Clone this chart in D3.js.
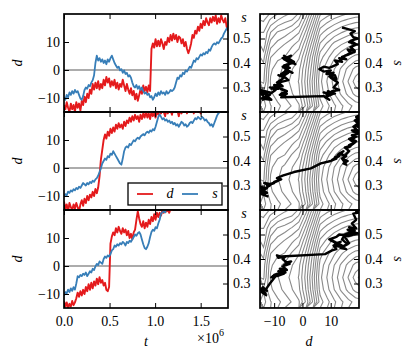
<!DOCTYPE html>
<html>
<head>
<meta charset="utf-8">
<script src="https://cdn.jsdelivr.net/npm/d3@7"></script>
<style>
body { margin: 0; background: #fff; }
text { font-family: "Liberation Serif", serif; font-size: 14px; }
</style>
</head>
<body>
<svg id="fig" width="415" height="360"></svg>
<script>
// sample spacing of the runs (t axis)
var tStep = 15000;

// run 1
var dA = [-12.5,-14,-11.5,-13.5,-15,-12,-14,-12.5,-15,-11.5,
  -13.5,-12,-14.5,-11,-12.5,-9.5,-11.5,-8.5,-10,-7,
  -8.5,-5,-7,-4.5,-6.5,-4,-7,-5,-6.5,-3.5,
  -5.5,-2.5,-4.5,-3,-6,-4,-5.5,-3.5,-6.5,-4.5,
  -7,-5,-6,-3.5,-5.5,-7.5,-5,-7,-8.5,-6.5,
  -9,-7.5,-10.5,-8.5,-11,-9,-7,-8.5,-5.5,-7.5,
  -6,-8,-5.5,-7.5,7.5,9.5,8,11,8.5,10.5,
  8.5,11,9.5,7.5,10,9,11.5,10,12.5,10.5,
  13,11,12.5,10,12,11.5,9.5,11,8.5,10,
  7.5,6,7.5,9.5,12.5,11.5,14,13,15.5,14,
  16.5,15,17.5,16,18.5,17,16,18.5,17,19,
  17.5,19.5,16.5,18.5,17,19.5,18,17,18.5,15.5,14];
var sA = [0.26,0.25,0.27,0.26,0.28,0.27,0.285,0.275,0.29,0.28,
  0.285,0.27,0.255,0.25,0.265,0.29,0.30,0.295,0.31,0.305,
  0.32,0.33,0.35,0.40,0.43,0.41,0.42,0.405,0.415,0.40,
  0.41,0.395,0.415,0.405,0.42,0.43,0.415,0.40,0.39,0.38,
  0.385,0.37,0.375,0.36,0.37,0.355,0.36,0.345,0.35,0.34,
  0.32,0.305,0.30,0.31,0.295,0.305,0.29,0.30,0.285,0.275,
  0.28,0.27,0.275,0.26,0.265,0.25,0.26,0.275,0.265,0.28,
  0.27,0.285,0.275,0.28,0.27,0.285,0.275,0.28,0.29,0.285,
  0.29,0.30,0.32,0.34,0.335,0.35,0.345,0.36,0.355,0.37,
  0.365,0.375,0.385,0.38,0.395,0.41,0.405,0.42,0.415,0.425,
  0.435,0.43,0.44,0.435,0.445,0.44,0.455,0.45,0.465,0.475,
  0.48,0.475,0.485,0.48,0.49,0.50,0.505,0.52,0.53,0.54,0.545];

// run 2
var dB = [-12,-14.5,-13,-15.5,-12.5,-14,-15,-13,-14.5,-12.5,
  -14,-15.5,-13,-11.5,-13.5,-11,-12.5,-10,-11.5,-9.5,
  -10.5,-8.5,-10,-7.5,-9,-7,-3,3,6.5,10,
  12,10.5,13,11.5,14,12.5,14.5,13,15.5,14,
  16,14.5,15.5,14,16.5,15,17,16,18,16.5,
  18.5,17,19,17.5,18.5,16.5,19,17.5,19.5,18,
  20,18,19.5,17.5,20,18.5,19.5,18,20.5,19,
  21,19.5,22,20,18.5,21,19.5,22,20.5,19,
  21.5,20,22.5,20.5,18.5,21,19.5,22,20.5,21.5,
  19.5,22,20.5,23,21,19.5,22,20,22.5,21,
  19.5,22,20.5,23,21.5,20,22.5,21,23.5,22,
  20.5,23,21.5,24,22.5,21,23.5,22,24.5,23,24];
var sB = [0.255,0.265,0.26,0.275,0.27,0.28,0.275,0.285,0.28,0.29,
  0.285,0.295,0.29,0.30,0.31,0.305,0.30,0.31,0.305,0.315,
  0.31,0.32,0.315,0.325,0.33,0.34,0.355,0.37,0.39,0.40,
  0.41,0.405,0.42,0.415,0.43,0.425,0.44,0.43,0.42,0.41,
  0.40,0.39,0.385,0.41,0.44,0.455,0.46,0.455,0.47,0.465,
  0.475,0.485,0.48,0.49,0.495,0.49,0.50,0.505,0.51,0.505,
  0.515,0.52,0.515,0.525,0.52,0.53,0.525,0.54,0.56,0.58,
  0.59,0.58,0.57,0.575,0.565,0.57,0.56,0.565,0.555,0.56,
  0.55,0.555,0.545,0.55,0.54,0.55,0.56,0.555,0.545,0.55,
  0.54,0.545,0.555,0.56,0.555,0.565,0.575,0.57,0.58,0.575,
  0.57,0.58,0.575,0.565,0.57,0.56,0.555,0.545,0.55,0.54,
  0.555,0.57,0.585,0.595,0.60,0.61,0.605,0.62,0.615,0.63,0.625];

// run 3
var dC = [-12.5,-14.5,-13,-15,-13.5,-14.5,-12.5,-14,-13,-11.5,
  -9.5,-11,-9,-10.5,-8.5,-10,-7.5,-9,-6.5,-8.5,
  -6,-8,-5.5,-7,-4.5,-6.5,-4,-6,-5,-7,
  -6,-8.5,-9,-7.5,8,10.5,12,11,13.5,12,
  14,12.5,11.5,13.5,12,13,11,12.5,10,11.5,
  9.5,12,13,16.5,19.5,17,15,14,16,13.5,
  15.5,14,16.5,15,17.5,16,18.5,16.5,19,17.5,
  19,18,20,19,20.5,19.5,20,19,20.5,20,
  21,20.5,22,21.5,23,22,24,23,24.5,24,
  25,24.5,26,25,26.5,26,27.5,26.5,28,27.5,
  28.5,28,29,28.5,29.5,29,30,29.5,30.5,30,
  31,30.5,31.5,31,32,31.5,32.5,32,33,32.5,33];
var sC = [0.25,0.265,0.26,0.275,0.265,0.28,0.27,0.285,0.275,0.30,
  0.33,0.325,0.335,0.33,0.34,0.335,0.345,0.33,0.34,0.35,
  0.345,0.36,0.355,0.37,0.38,0.375,0.39,0.385,0.38,0.40,
  0.41,0.405,0.415,0.41,0.42,0.435,0.44,0.455,0.45,0.46,
  0.455,0.465,0.46,0.47,0.465,0.455,0.47,0.465,0.475,0.47,
  0.48,0.49,0.50,0.495,0.505,0.51,0.50,0.48,0.46,0.445,
  0.44,0.45,0.465,0.49,0.51,0.52,0.515,0.53,0.525,0.545,
  0.56,0.585,0.59,0.595,0.59,0.605,0.61,0.62,0.615,0.63,
  0.64,0.635,0.65,0.66,0.655,0.67,0.68,0.675,0.69,0.70,
  0.695,0.71,0.72,0.715,0.73,0.74,0.735,0.75,0.76,0.755,
  0.77,0.78,0.775,0.79,0.80,0.795,0.81,0.82,0.815,0.83,
  0.84,0.835,0.85,0.86,0.855,0.87,0.88,0.875,0.89,0.90,0.895];

// landscape in the (d, s) plane: one row per s value (0.20 .. 0.60), one column per d value (-15 .. 20)
var fieldD0 = -15, fieldDStep = 2.5, fieldS0 = 0.2, fieldSStep = 0.05;
var fieldRows = [
  [34.1,32.1,30.9,29.9,28.9,27.7,24.2,19.7,14.7,13.0,11.3, 9.8, 8.5, 7.5, 7.1],
  [33.3,30.8,29.6,28.6,27.6,26.4,22.9,18.4,13.4,11.5, 9.5, 7.7, 6.0, 4.5, 3.6],
  [35.3,30.3,29.1,28.1,27.1,25.9,22.4,17.9,12.9,10.9, 8.9, 6.9, 4.9, 2.8, 0.8],
  [35.8,30.8,29.6,28.6,27.6,26.4,22.9,18.8,13.4,11.5, 9.5, 7.7, 6.0, 4.5, 3.6],
  [37.1,32.1,30.9,30.5,28.9,27.7,24.2,19.7,14.7,13.0,11.3, 9.8, 8.5, 7.5, 7.1],
  [39.1,34.1,32.9,31.9,30.9,29.7,26.2,21.7,16.7,15.1,13.4,12.5,11.6,10.9,10.5],
  [39.5,36.5,34.8,34.3,33.3,32.1,28.6,24.1,19.1,17.7,16.6,15.6,14.8,14.3,14.0],
  [41.2,39.2,38.0,37.0,36.5,34.8,31.3,26.8,21.8,20.6,19.6,18.8,18.2,17.7,17.5],
  [44.1,42.1,40.9,39.9,38.9,37.7,34.2,29.7,24.7,23.7,22.8,22.1,21.5,21.2,21.0]
];
var fieldLevels = d3.range(0.5, 45, 1.5);

var tTicks = [0, 0.5e6, 1e6, 1.5e6];
var dTicks = [-10, 0, 10];
var sTicks = [0.3, 0.4, 0.5];
var dDomain = [-15, 20], sDomain = [0.2, 0.6], tDomain = [0, 1.8e6];

var runs = [{d: dA, s: sA}, {d: dB, s: sB}, {d: dC, s: sC}];

var red = "#e41a1c", blue = "#377eb8";
var rowTops = [14, 112, 210], panelH = 98;
var L = {x0: 64, x1: 228}, R = {x0: 260, x1: 359};

var svg = d3.select("#fig");
var defs = svg.append("defs");

function Ticks(g, axis, labels)
{
  g.call(axis);
  g.select(".domain").remove();
  g.selectAll("line").attr("stroke", "#000").attr("stroke-width", 1);
  g.selectAll("text")
    .attr("font-family", "Liberation Serif, serif")
    .attr("font-size", 14)
    .attr("fill", "#000");
  if (!labels) g.selectAll("text").remove();
  g.attr("font-family", null).attr("font-size", null);
}

function DrawSeries(k)
{
  var top = rowTops[k], bottom = top + panelH, run = runs[k];
  var x = d3.scaleLinear().domain(tDomain).range([L.x0, L.x1]);
  var yd = d3.scaleLinear().domain(dDomain).range([bottom, top]);
  var ys = d3.scaleLinear().domain(sDomain).range([bottom, top]);

  defs.append("clipPath").attr("id", "clipL" + k)
    .append("rect")
    .attr("x", L.x0).attr("y", top)
    .attr("width", L.x1 - L.x0).attr("height", panelH);

  var g = svg.append("g").attr("clip-path", "url(#clipL" + k + ")");

  g.append("line")
    .attr("x1", L.x0).attr("x2", L.x1)
    .attr("y1", yd(0)).attr("y2", yd(0))
    .attr("stroke", "#5a5a5a")
    .attr("stroke-width", 1.2);

  g.append("path")
    .datum(run.d)
    .attr("fill", "none")
    .attr("stroke", red)
    .attr("stroke-width", 1.9)
    .attr("stroke-linejoin", "round")
    .attr("d", d3.line().x((v, i) => x(i * tStep)).y(v => yd(v)));

  g.append("path")
    .datum(run.s)
    .attr("fill", "none")
    .attr("stroke", blue)
    .attr("stroke-width", 1.8)
    .attr("stroke-linejoin", "round")
    .attr("d", d3.line().x((v, i) => x(i * tStep)).y(v => ys(v)));

  Ticks(svg.append("g").attr("transform", "translate(" + L.x0 + ",0)"),
    d3.axisLeft(yd).tickValues(dTicks).tickSize(-5).tickPadding(4), true);
  Ticks(svg.append("g").attr("transform", "translate(" + L.x1 + ",0)"),
    d3.axisRight(ys).tickValues(sTicks).tickSize(-5).tickPadding(5).tickFormat(d3.format(".1f")), true);
  Ticks(svg.append("g").attr("transform", "translate(0," + top + ")"),
    d3.axisTop(x).tickValues(tTicks).tickSize(-5), false);
  Ticks(svg.append("g").attr("transform", "translate(0," + bottom + ")"),
    d3.axisBottom(x).tickValues(tTicks).tickSize(-5).tickPadding(8).tickFormat(v => d3.format(".1f")(v / 1e6)), k == 2);

  svg.append("text")
    .attr("transform", "translate(18," + (top + panelH / 2) + ") rotate(-90)")
    .attr("text-anchor", "middle")
    .attr("dy", "0.3em")
    .attr("font-style", "italic")
    .text("d");

  svg.append("text")
    .attr("x", 244).attr("y", top + 8)
    .attr("text-anchor", "middle")
    .attr("font-style", "italic")
    .text("s");

  svg.append("rect")
    .attr("x", L.x0).attr("y", top)
    .attr("width", L.x1 - L.x0).attr("height", panelH)
    .attr("fill", "none")
    .attr("stroke", "#000")
    .attr("stroke-width", 1.7);
}

function DrawLandscape(k)
{
  var top = rowTops[k], bottom = top + panelH, run = runs[k];
  var x = d3.scaleLinear().domain(dDomain).range([R.x0, R.x1]);
  var ys = d3.scaleLinear().domain(sDomain).range([bottom, top]);

  defs.append("clipPath").attr("id", "clipR" + k)
    .append("rect")
    .attr("x", R.x0).attr("y", top)
    .attr("width", R.x1 - R.x0).attr("height", panelH);

  var g = svg.append("g").attr("clip-path", "url(#clipR" + k + ")");

  var nx = fieldRows[0].length, ny = fieldRows.length;
  var values = [].concat.apply([], fieldRows);
  var contours = d3.contours().size([nx, ny]).thresholds(fieldLevels).smooth(true)(values);
  var proj = d3.geoTransform({
    point: function(px, py) {
      this.stream.point(x(fieldD0 + px * fieldDStep), ys(fieldS0 + py * fieldSStep));
    }
  });

  g.selectAll("path.level")
    .data(contours)
    .enter().append("path")
    .attr("class", "level")
    .attr("fill", "none")
    .attr("stroke", "#8a8a8a")
    .attr("stroke-width", 1.1)
    .attr("d", d3.geoPath(proj));

  var pts = run.d.map((v, i) => [v, run.s[i]]);
  g.append("path")
    .datum(pts)
    .attr("fill", "none")
    .attr("stroke", "#000")
    .attr("stroke-width", 2.4)
    .attr("stroke-linejoin", "round")
    .attr("d", d3.line().x(p => x(p[0])).y(p => ys(p[1])));

  Ticks(svg.append("g").attr("transform", "translate(" + R.x0 + ",0)"),
    d3.axisLeft(ys).tickValues(sTicks).tickSize(-5), false);
  Ticks(svg.append("g").attr("transform", "translate(" + R.x1 + ",0)"),
    d3.axisRight(ys).tickValues(sTicks).tickSize(-5).tickPadding(6).tickFormat(d3.format(".1f")), true);
  Ticks(svg.append("g").attr("transform", "translate(0," + top + ")"),
    d3.axisTop(x).tickValues(dTicks).tickSize(-5), false);
  Ticks(svg.append("g").attr("transform", "translate(0," + bottom + ")"),
    d3.axisBottom(x).tickValues(dTicks).tickSize(-5).tickPadding(8), k == 2);

  svg.append("text")
    .attr("transform", "translate(398," + (top + panelH / 2) + ") rotate(90)")
    .attr("text-anchor", "middle")
    .attr("dy", "0.3em")
    .attr("font-style", "italic")
    .text("s");

  svg.append("rect")
    .attr("x", R.x0).attr("y", top)
    .attr("width", R.x1 - R.x0).attr("height", panelH)
    .attr("fill", "none")
    .attr("stroke", "#000")
    .attr("stroke-width", 1.7);
}

[0, 1, 2].forEach(k => { DrawSeries(k); DrawLandscape(k); });

// legend in the middle panel
var leg = svg.append("g");
leg.append("rect")
  .attr("x", 128).attr("y", 183)
  .attr("width", 94).attr("height", 22)
  .attr("fill", "#fff")
  .attr("stroke", "#000")
  .attr("stroke-width", 1.3);
[{name: "d", color: red, x: 137}, {name: "s", color: blue, x: 182}].forEach(e => {
  leg.append("line")
    .attr("x1", e.x).attr("x2", e.x + 16)
    .attr("y1", 194).attr("y2", 194)
    .attr("stroke", e.color)
    .attr("stroke-width", 1.8);
  leg.append("text")
    .attr("x", e.x + 33).attr("y", 194)
    .attr("dy", "0.32em")
    .attr("text-anchor", "middle")
    .attr("font-style", "italic")
    .text(e.name);
});

// axis titles under the bottom row
svg.append("text")
  .attr("x", 146).attr("y", 346)
  .attr("text-anchor", "middle")
  .attr("font-style", "italic")
  .text("t");

var mult = svg.append("text").attr("x", 197).attr("y", 343);
mult.append("tspan").text("×10");
mult.append("tspan").attr("dy", -7).attr("font-size", 10).text("6");

svg.append("text")
  .attr("x", 309).attr("y", 346)
  .attr("text-anchor", "middle")
  .attr("font-style", "italic")
  .text("d");
</script>
</body>
</html>
